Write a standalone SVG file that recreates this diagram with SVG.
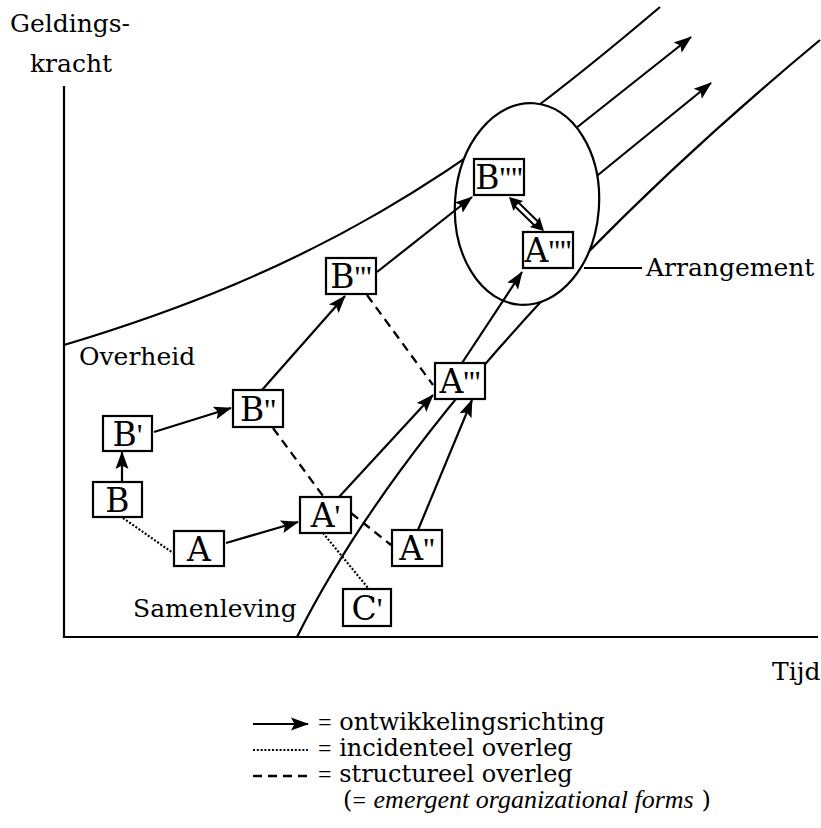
<svg xmlns="http://www.w3.org/2000/svg" width="821" height="828" viewBox="0 0 821 828">
  <defs>
    <marker id="head" markerUnits="userSpaceOnUse" markerWidth="19" markerHeight="14" refX="17" refY="7" orient="auto" overflow="visible">
      <path d="M0,0.5 L18,7 L0,13.5 L3.5,7 z" fill="#000"/>
    </marker>
  </defs>
  <style>
    .ln{fill:none;stroke:#000;stroke-width:2.2}
    .arr{fill:none;stroke:#000;stroke-width:2.2;marker-end:url(#head)}
    .dash{fill:none;stroke:#000;stroke-width:2.3;stroke-dasharray:9 6}
    .dot{fill:none;stroke:#000;stroke-width:2.2;stroke-dasharray:2 1.8}
    .box{fill:#fff;stroke:#000;stroke-width:2.2}
    .lbl{font-family:"DejaVu Serif","Liberation Serif",serif;font-size:33px;text-anchor:middle;fill:#000}
    .pr{font-family:"Liberation Serif",serif;font-size:32px}
    .txt{font-family:"DejaVu Serif","Liberation Serif",serif;font-size:25px;fill:#000}
    .leg{font-family:"DejaVu Serif","Liberation Serif",serif;font-size:24px;fill:#000}
    .eq{font-family:"Liberation Serif",serif}
    .it{font-family:"Liberation Serif",serif;font-style:italic;font-size:26px}
  </style>
  <rect width="821" height="828" fill="#fff"/>

  <!-- axes -->
  <g id="axes">
    <path class="ln" d="M64,86 V637 H818"/>
    <text class="txt" x="70" y="32" text-anchor="middle">Geldings-</text>
    <text class="txt" x="71" y="72" text-anchor="middle">kracht</text>
    <text class="txt" x="772" y="680">Tijd</text>
  </g>

  <!-- boundary curves and outgoing trends -->
  <g id="curves">
    <path id="overheid-curve" class="ln" d="M64,345 C314,270 460,177 660,7"/>
    <path id="samenleving-curve" class="ln" d="M297,637 C387,457 570,247.5 820,40"/>
    <path class="arr" d="M561,140 L691,37"/>
    <path class="arr" d="M582,188 L711,83"/>
    <text class="txt" x="79" y="365">Overheid</text>
    <text class="txt" x="133" y="617">Samenleving</text>
  </g>

  <!-- arrangement -->
  <g id="arrangement">
    <ellipse cx="527" cy="204" rx="72" ry="101" transform="rotate(4 527 204)" fill="#fff" stroke="#000" stroke-width="2.2"/>
    <path class="ln" d="M584,268 H642" stroke-width="1.6"/>
    <text class="txt" x="646" y="276">Arrangement</text>
  </g>

  <!-- connectors -->
  <g id="connectors">
    <path class="arr" d="M122,482 L122,452"/>
    <path class="arr" d="M154,432 L231,408"/>
    <path class="arr" d="M226,543 L298,522"/>
    <path class="arr" d="M339,497 L433,395"/>
    <path class="arr" d="M418,530 L472,400"/>
    <path class="arr" d="M262,390 L345,296"/>
    <path class="arr" d="M377,272 L472,197"/>
    <path class="arr" d="M462,363 L522,272"/>
    <path class="dash" d="M273,428 L323,496"/>
    <path class="dash" d="M351,513 L391,545"/>
    <path class="dash" d="M367,295 L433,385"/>
    <path class="dot" d="M123,518 L173,553"/>
    <path class="dot" d="M323,533 L368,588"/>
    <!-- two-way hollow arrow between B'''' and A'''' -->
    <g transform="translate(509,197) rotate(44.2)">
      <path d="M11,-2.6 H37.8 M11,2.6 H37.8" fill="none" stroke="#000" stroke-width="2"/>
      <polygon points="0,0 13,-7 11,0 13,7" fill="#000"/>
      <polygon points="48.8,0 35.8,-7 37.8,0 35.8,7" fill="#000"/>
    </g>
  </g>

  <!-- nodes -->
  <g id="node-B">
    <rect class="box" x="93" y="482" width="49" height="35"/>
    <text class="lbl" x="117.5" y="512">B</text>
  </g>
  <g id="node-B1">
    <rect class="box" x="103" y="416" width="49" height="35"/>
    <text class="lbl" x="127.5" y="446">B<tspan class="pr">'</tspan></text>
  </g>
  <g id="node-B2">
    <rect class="box" x="233" y="390" width="50" height="37"/>
    <text class="lbl" x="258" y="421">B<tspan class="pr">''</tspan></text>
  </g>
  <g id="node-B3">
    <rect class="box" x="326" y="258" width="50" height="36"/>
    <text class="lbl" x="351" y="288">B<tspan class="pr">'''</tspan></text>
  </g>
  <g id="node-B4">
    <rect class="box" x="474" y="159" width="50" height="36"/>
    <text class="lbl" x="499" y="189">B<tspan class="pr">''''</tspan></text>
  </g>
  <g id="node-A">
    <rect class="box" x="174" y="531" width="50" height="35"/>
    <text class="lbl" x="199" y="561">A</text>
  </g>
  <g id="node-A1">
    <rect class="box" x="300" y="497" width="51" height="36"/>
    <text class="lbl" x="325.5" y="527">A<tspan class="pr">'</tspan></text>
  </g>
  <g id="node-A2">
    <rect class="box" x="392" y="530" width="50" height="36"/>
    <text class="lbl" x="417" y="560">A<tspan class="pr">''</tspan></text>
  </g>
  <g id="node-A3">
    <rect class="box" x="435" y="363" width="50" height="36"/>
    <text class="lbl" x="460" y="393">A<tspan class="pr">'''</tspan></text>
  </g>
  <g id="node-A4">
    <rect class="box" x="523" y="232" width="50" height="36"/>
    <text class="lbl" x="548" y="262">A<tspan class="pr">''''</tspan></text>
  </g>
  <g id="node-C1">
    <rect class="box" x="343" y="589" width="48" height="37"/>
    <text class="lbl" x="367" y="620">C<tspan class="pr">'</tspan></text>
  </g>

  <!-- legend -->
  <g id="legend">
    <path class="arr" d="M253,724 L308,724"/>
    <path class="dot" d="M253,750 L308,750"/>
    <path class="dash" d="M253,776 L308,776" stroke-dasharray="9 4"/>
    <text class="leg" x="318" y="730"><tspan class="eq">=</tspan> ontwikkelingsrichting</text>
    <text class="leg" x="318" y="756"><tspan class="eq">=</tspan> incidenteel overleg</text>
    <text class="leg" x="318" y="782"><tspan class="eq">=</tspan> structureel overleg</text>
    <text class="leg" x="343" y="808">(<tspan class="eq">=</tspan> <tspan class="it">emergent organizational forms</tspan> )</text>
  </g>
</svg>
